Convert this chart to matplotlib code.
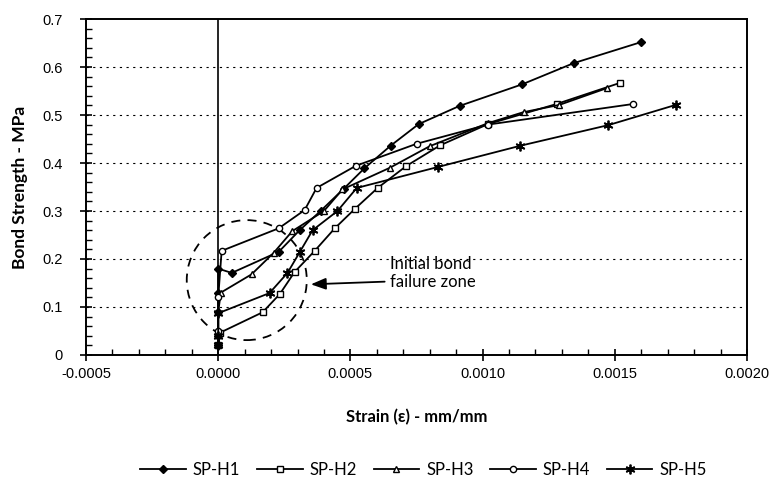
import matplotlib
matplotlib.use("Agg")
import matplotlib.pyplot as plt
from matplotlib.patches import Ellipse
from matplotlib.ticker import MultipleLocator, FixedLocator, FixedFormatter

# Bond strength (MPa) versus slip strain (mm/mm) for five specimens
h1_strain = [0.0, 0.0, 0.0, 0.0, 0.0, 0.000051, 0.000229, 0.000308, 0.000387,
             0.000474, 0.000553, 0.000652, 0.000758, 0.000913, 0.00115,
             0.001344, 0.0016]
h1_stress = [0.02, 0.04, 0.09, 0.13, 0.18, 0.171, 0.215, 0.260, 0.300,
             0.346, 0.389, 0.436, 0.481, 0.519, 0.564, 0.608, 0.652]

h2_strain = [0.0, 0.000005, 0.000168, 0.000233, 0.000289, 0.000365, 0.000441,
             0.000516, 0.000603, 0.000712, 0.00084, 0.00102, 0.00128, 0.00152]
h2_stress = [0.02, 0.046, 0.089, 0.127, 0.173, 0.217, 0.264,
             0.304, 0.348, 0.394, 0.437, 0.481, 0.523, 0.567]

h3_strain = [0.0, 0.0, 0.0, 0.00001, 0.000126, 0.00021, 0.00028, 0.00040,
             0.00047, 0.000649, 0.00080, 0.00102, 0.001155, 0.00129, 0.00147]
h3_stress = [0.02, 0.05, 0.09, 0.13, 0.168, 0.213, 0.258, 0.30,
             0.345, 0.39, 0.435, 0.483, 0.506, 0.521, 0.556]

h4_strain = [0.0, 0.0, 0.0, 0.000013, 0.000229, 0.000327, 0.000372, 0.00052,
             0.00075, 0.00102, 0.00157]
h4_stress = [0.02, 0.05, 0.12, 0.217, 0.264, 0.302, 0.348, 0.394,
             0.44, 0.48, 0.523]

h5_strain = [0.0, 0.0, 0.0, 0.000194, 0.000262, 0.000308, 0.000357, 0.000451,
             0.000524, 0.000833, 0.001143, 0.001476, 0.00173]
h5_stress = [0.02, 0.04, 0.087, 0.129, 0.171, 0.214, 0.260, 0.300,
             0.348, 0.392, 0.436, 0.479, 0.521]

labels = ["SP-H1", "SP-H2", "SP-H3", "SP-H4", "SP-H5"]
x_ticks = [-0.0005, 0.0, 0.0005, 0.0010, 0.0015, 0.0020]
x_tick_labels = ["-0.0005", "0.0000", "0.0005", "0.0010", "0.0015", "0.0020"]
y_ticks = [0.0, 0.1, 0.2, 0.3, 0.4, 0.5, 0.6, 0.7]
y_tick_labels = ["0", "0.1", "0.2", "0.3", "0.4", "0.5", "0.6", "0.7"]

fig = plt.figure(figsize=(7.77, 4.94), dpi=100)
ax = fig.add_axes([0.1107, 0.2814, 0.8507, 0.6801])

series = [
    (h1_strain, h1_stress, dict(marker="D", markersize=4, markerfacecolor="black")),
    (h2_strain, h2_stress, dict(marker="s", markersize=4.5, markerfacecolor="white")),
    (h3_strain, h3_stress, dict(marker="^", markersize=5, markerfacecolor="white")),
    (h4_strain, h4_stress, dict(marker="o", markersize=4.5, markerfacecolor="white")),
    (h5_strain, h5_stress, dict(marker=(6, 2, 0), markersize=7, markeredgewidth=1.3)),
]
for (xs, ys, style), lab in zip(series, labels):
    ax.plot(xs, ys, color="black", linewidth=1.3, markeredgecolor="black",
            label=lab, **style)

ax.set_xlim(-0.0005, 0.0020)
ax.set_ylim(0, 0.7)

# zero-strain reference line
ax.axvline(0.0, color="black", linewidth=1.2, zorder=1)

# horizontal dotted grid
for yv in y_ticks[1:-1]:
    ax.axhline(yv, color="black", linestyle=(0, (2, 4)), linewidth=0.8, zorder=0)

ax.xaxis.set_major_locator(FixedLocator(x_ticks))
ax.xaxis.set_major_formatter(FixedFormatter(x_tick_labels))
ax.yaxis.set_major_locator(FixedLocator(y_ticks))
ax.yaxis.set_major_formatter(FixedFormatter(y_tick_labels))
ax.xaxis.set_minor_locator(MultipleLocator(0.0001))
ax.yaxis.set_minor_locator(MultipleLocator(0.02))
ax.tick_params(which="major", direction="inout", length=8, width=1.2,
               labelsize=10.5)
ax.tick_params(axis="x", which="major", pad=5)
ax.tick_params(axis="y", which="major", pad=13)
ax.tick_params(which="minor", direction="in", length=4, width=1.0)
for lab in ax.get_xticklabels() + ax.get_yticklabels():
    lab.set_fontfamily("Liberation Sans")
for sp in ax.spines.values():
    sp.set_linewidth(1.4)

# initial bond failure zone
ax.add_patch(Ellipse((0.000108, 0.156), 0.000454, 0.25, fill=False,
                     edgecolor="black", linestyle=(0, (5, 4)), linewidth=1.3))
ax.annotate("", xy=(0.00034, 0.147), xytext=(0.00064, 0.153),
            arrowprops=dict(arrowstyle="-|>,head_length=0.9,head_width=0.35",
                            color="black", linewidth=1.3))
ax.text(0.00065, 0.17, "Initial bond\nfailure zone", fontsize=12,
        fontfamily="Lato", va="center", ha="left", linespacing=1.15)

ax.set_xlabel("Strain (ε) - mm/mm", fontsize=12, fontweight="bold",
              fontfamily="Lato")
ax.xaxis.set_label_coords(0.5, -0.16)
ax.set_ylabel("Bond Strength - MPa", fontsize=12.5, fontweight="bold",
              fontfamily="Lato")
ax.yaxis.set_label_coords(-0.088, 0.5)

fig.legend(loc="center", bbox_to_anchor=(0.545, 0.049), ncol=5, frameon=False,
           handlelength=2.75, columnspacing=1.0, handletextpad=0.4,
           prop=dict(family="Lato", size=12))

fig.savefig("out.png", dpi=100)
